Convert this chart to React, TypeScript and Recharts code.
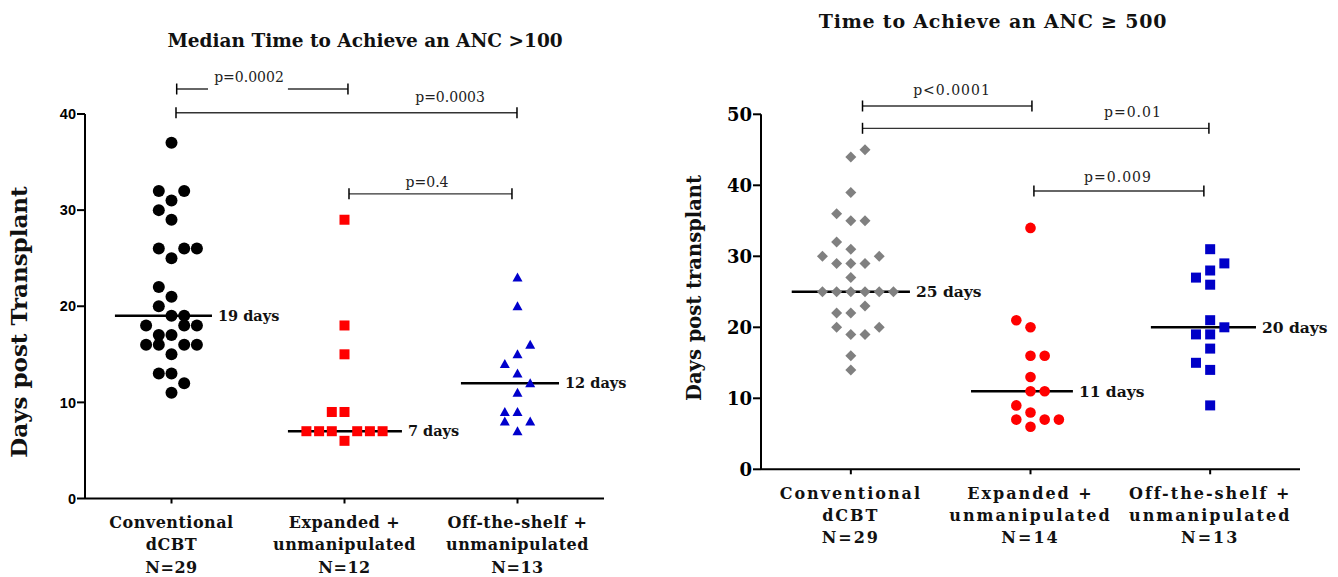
import React from 'react';
import { ScatterChart, Scatter, XAxis, YAxis, ReferenceLine, ReferenceDot } from 'recharts';

const SERIF = '"DejaVu Serif", serif';
const SANS = '"Liberation Sans", Arial, sans-serif';

// [days, column offset inside the scatter column]
type Pt = [number, number];

// ---- left: median time to ANC > 100 ----
const labels100 = [
  ['Conventional', 'dCBT', 'N=29'],
  ['Expanded +', 'unmanipulated', 'N=12'],
  ['Off-the-shelf +', 'unmanipulated', 'N=13'],
];
const conv100: Pt[] = [
  [37, 0], [32, -1], [32, 1], [31, 0], [30, -1], [29, 0], [26, -1], [26, 1], [26, 2], [25, 0],
  [22, -1], [21, 0], [20, -1], [19, 0], [19, 1], [18, -2], [18, 1], [18, 2], [17, -1], [17, 0],
  [16, -2], [16, -1], [16, 1], [16, 2], [15, 0], [13, -1], [13, 0], [12, 1], [11, 0],
];
const exp100: Pt[] = [
  [29, 0], [18, 0], [15, 0], [9, -1], [9, 0], [7, -3], [7, -2], [7, -1], [7, 1], [7, 2], [7, 3], [6, 0],
];
const shelf100: Pt[] = [
  [23, 0], [20, 0], [16, 1], [15, 0], [14, -1], [13, 0], [12, 1], [11, 0], [9, -1], [9, 0], [8, -1], [8, 1], [7, 0],
];
const medians100 = [19, 7, 12];
const medianSpans100 = [[-0.327, 0.234], [-0.327, 0.332], [-0.327, 0.24]];
const brackets100 = [
  { from: 0.53, to: 1.52, y: 42.6, text: 'p=0.0002', tx: 0.948, ty: 43.8, gap: [0.711, 1.173] },
  { from: 0.526, to: 2.497, y: 40.13, text: 'p=0.0003', tx: 2.11, ty: 41.8 },
  { from: 1.526, to: 2.468, y: 31.7, text: 'p=0.4', tx: 1.977, ty: 32.9 },
];

// ---- right: time to ANC >= 500 ----
const labels500 = [
  ['Conventional', 'dCBT', 'N=29'],
  ['Expanded +', 'unmanipulated', 'N=14'],
  ['Off-the-shelf +', 'unmanipulated', 'N=13'],
];
const conv500: Pt[] = [
  [45, 1], [44, 0], [39, 0], [36, -1], [35, 0], [35, 1], [32, -1], [31, 0], [30, -2], [30, 2],
  [29, -1], [29, 0], [29, 1], [27, 0], [25, -2], [25, -1], [25, 0], [25, 1], [25, 2], [25, 3],
  [23, 1], [22, -1], [22, 0], [20, -1], [20, 2], [19, 0], [19, 1], [16, 0], [14, 0],
];
const exp500: Pt[] = [
  [34, 0], [21, -1], [20, 0], [16, 0], [16, 1], [13, 0], [11, 0], [11, 1], [9, -1], [8, 0], [7, -1], [7, 1], [7, 2], [6, 0],
];
const shelf500: Pt[] = [
  [31, 0], [29, 1], [28, 0], [27, -1], [26, 0], [21, 0], [20, 1], [19, -1], [19, 0], [17, 0], [15, -1], [14, 0], [9, 0],
];
const medians500 = [25, 11, 20];
const medianSpans500 = [[-0.329, 0.329], [-0.331, 0.236], [-0.33, 0.255]];
const brackets500 = [
  { from: 0.565, to: 1.508, y: 51.17, text: 'p<0.0001', tx: 1.063, ty: 53.4 },
  { from: 0.565, to: 2.493, y: 48.03, text: 'p=0.01', tx: 2.07, ty: 50.3 },
  { from: 1.519, to: 2.465, y: 39.2, text: 'p=0.009', tx: 1.987, ty: 41.2 },
];

function Marker({ kind, cx, cy, color, size }: any) {
  if (cx == null || cy == null) return null;
  const h = size / 2;
  if (kind === 'circle') return <circle cx={cx} cy={cy} r={h} fill={color} />;
  if (kind === 'square') return <rect x={cx - h} y={cy - h} width={size} height={size} fill={color} />;
  if (kind === 'triangle')
    return <polygon points={`${cx},${cy - h} ${cx + h},${cy + h * 0.8} ${cx - h},${cy + h * 0.8}`} fill={color} />;
  return <polygon points={`${cx},${cy - h} ${cx + h},${cy} ${cx},${cy + h} ${cx - h},${cy}`} fill={color} />;
}

function XTick({ x, y, payload, lines, dy0, lh, fontSize, spacing }: any) {
  const idx = Math.round(payload.value - 0.5);
  const rows = lines[idx] || [];
  return (
    <text x={x} y={y} textAnchor="middle" fontFamily={SERIF} fontWeight="bold" fontSize={fontSize}
      fill="#111" letterSpacing={spacing}>
      {rows.map((t: string, i: number) => (
        <tspan key={i} x={x} dy={i === 0 ? dy0 : lh}>{t}</tspan>
      ))}
    </text>
  );
}

function Panel({ cfg }: any) {
  const plotH = cfg.height - cfg.top - cfg.xAxisHeight;
  const cap = 5.5 / (plotH / cfg.yMax);
  return (
    <ScatterChart width={cfg.width} height={cfg.height}
      margin={{ top: cfg.top, right: cfg.right, bottom: 0, left: 0 }}>
      <XAxis type="number" dataKey="x" domain={[0, 3]} ticks={[0.5, 1.5, 2.5]} height={cfg.xAxisHeight}
        axisLine={{ stroke: '#000', strokeWidth: 2 }} tickLine={{ stroke: '#000', strokeWidth: 2 }} tickSize={5}
        tick={(p: any) => <XTick {...p} lines={cfg.labels} dy0={cfg.tickDy} lh={cfg.tickLh}
          fontSize={cfg.tickFont} spacing={cfg.tickSpacing} />} />
      <YAxis type="number" dataKey="y" domain={[0, cfg.yMax]} ticks={cfg.yTicks} width={cfg.yAxisWidth}
        axisLine={{ stroke: '#000', strokeWidth: 2 }} tickLine={{ stroke: '#000', strokeWidth: 2 }}
        tickSize={8} tickMargin={1}
        tick={{ fill: '#000', fontFamily: cfg.yFont, fontWeight: 'bold', fontSize: cfg.yFontSize }} />
      {cfg.groups.map((g: any, gi: number) => (
        <Scatter key={gi} isAnimationActive={false}
          data={g.pts.map(([v, o]: Pt) => ({ x: gi + 0.5 + o * cfg.step, y: v }))}
          shape={(p: any) => <Marker kind={g.kind} cx={p.cx} cy={p.cy} color={g.color} size={g.size} />} />
      ))}
      {cfg.medians.map((m: number, gi: number) => (
        <ReferenceLine key={'m' + gi} ifOverflow="visible" stroke="#000" strokeWidth={2.5}
          segment={[{ x: gi + 0.5 + cfg.spans[gi][0], y: m }, { x: gi + 0.5 + cfg.spans[gi][1], y: m }]}
          label={{ value: `${m} days`, position: 'right', offset: 6, fill: '#111', fontFamily: SERIF,
            fontWeight: 'bold', fontSize: cfg.medFont }} />
      ))}
      {cfg.brackets.map((b: any, bi: number) => {
        const parts = b.gap ? [[b.from, b.gap[0]], [b.gap[1], b.to]] : [[b.from, b.to]];
        return (
          <React.Fragment key={'b' + bi}>
            {parts.map(([a, c]: number[], pi: number) => (
              <ReferenceLine key={pi} ifOverflow="visible" stroke="#333" strokeWidth={1.3}
                segment={[{ x: a, y: b.y }, { x: c, y: b.y }]} />
            ))}
            <ReferenceLine ifOverflow="visible" stroke="#000" strokeWidth={1.5}
              segment={[{ x: b.from, y: b.y - cap }, { x: b.from, y: b.y + cap }]} />
            <ReferenceLine ifOverflow="visible" stroke="#000" strokeWidth={1.5}
              segment={[{ x: b.to, y: b.y - cap }, { x: b.to, y: b.y + cap }]} />
            <ReferenceDot x={b.tx} y={b.ty} r={1} fill="none" stroke="none" ifOverflow="visible"
              label={{ value: b.text, position: 'center', fill: '#222', fontFamily: SERIF,
                fontSize: cfg.pFont, letterSpacing: cfg.pSpacing }} />
          </React.Fragment>
        );
      })}
    </ScatterChart>
  );
}

const left = {
  width: 640, height: 577, top: 114, right: 36, xAxisHeight: 78.5, yAxisWidth: 85,
  yMax: 40, yTicks: [0, 10, 20, 30, 40], yFont: SANS, yFontSize: 14.5, step: 0.0734,
  labels: labels100, tickDy: 22, tickLh: 22.5, tickFont: 16, tickSpacing: 0.5,
  groups: [
    { pts: conv100, kind: 'circle', color: '#000', size: 12 },
    { pts: exp100, kind: 'square', color: '#ff0000', size: 10 },
    { pts: shelf100, kind: 'triangle', color: '#0000cc', size: 10 },
  ],
  medians: medians100, spans: medianSpans100, brackets: brackets100, medFont: 14.5, pFont: 14, pSpacing: 0,
};

const right = {
  width: 678, height: 577, top: 114.3, right: 38, xAxisHeight: 107.7, yAxisWidth: 101,
  yMax: 50, yTicks: [0, 10, 20, 30, 40, 50], yFont: SERIF, yFontSize: 18, step: 0.079,
  labels: labels500, tickDy: 23, tickLh: 22, tickFont: 16, tickSpacing: 2,
  groups: [
    { pts: conv500, kind: 'diamond', color: '#808080', size: 11 },
    { pts: exp500, kind: 'circle', color: '#ff0000', size: 10.6 },
    { pts: shelf500, kind: 'square', color: '#0000c8', size: 10 },
  ],
  medians: medians500, spans: medianSpans500, brackets: brackets500, medFont: 15.5, pFont: 14, pSpacing: 1,
};

const textBase: React.CSSProperties = {
  position: 'absolute', fontFamily: SERIF, fontWeight: 'bold', color: '#111', whiteSpace: 'nowrap',
  transform: 'translate(-50%, -50%)', lineHeight: 1,
};

export default function App() {
  return (
    <div style={{ position: 'absolute', left: 0, top: 0, width: 1338, height: 577, background: '#fff' }}>
      <div style={{ ...textBase, left: 365, top: 41, fontSize: 18.5 }}>Median Time to Achieve an ANC &gt;100</div>
      <div style={{ ...textBase, left: 993, top: 21, fontSize: 19, letterSpacing: 0.8 }}>Time to Achieve an ANC ≥ 500</div>
      <div style={{ ...textBase, left: 18, top: 322, fontSize: 23, transform: 'translate(-50%, -50%) rotate(-90deg)' }}>
        Days post Transplant
      </div>
      <div style={{ ...textBase, left: 695, top: 288, fontSize: 19.5, transform: 'translate(-50%, -50%) rotate(-90deg)' }}>
        Days post transplant
      </div>
      <div style={{ position: 'absolute', left: 0, top: 0 }}>
        <Panel cfg={left} />
      </div>
      <div style={{ position: 'absolute', left: 660, top: 0 }}>
        <Panel cfg={right} />
      </div>
    </div>
  );
}
